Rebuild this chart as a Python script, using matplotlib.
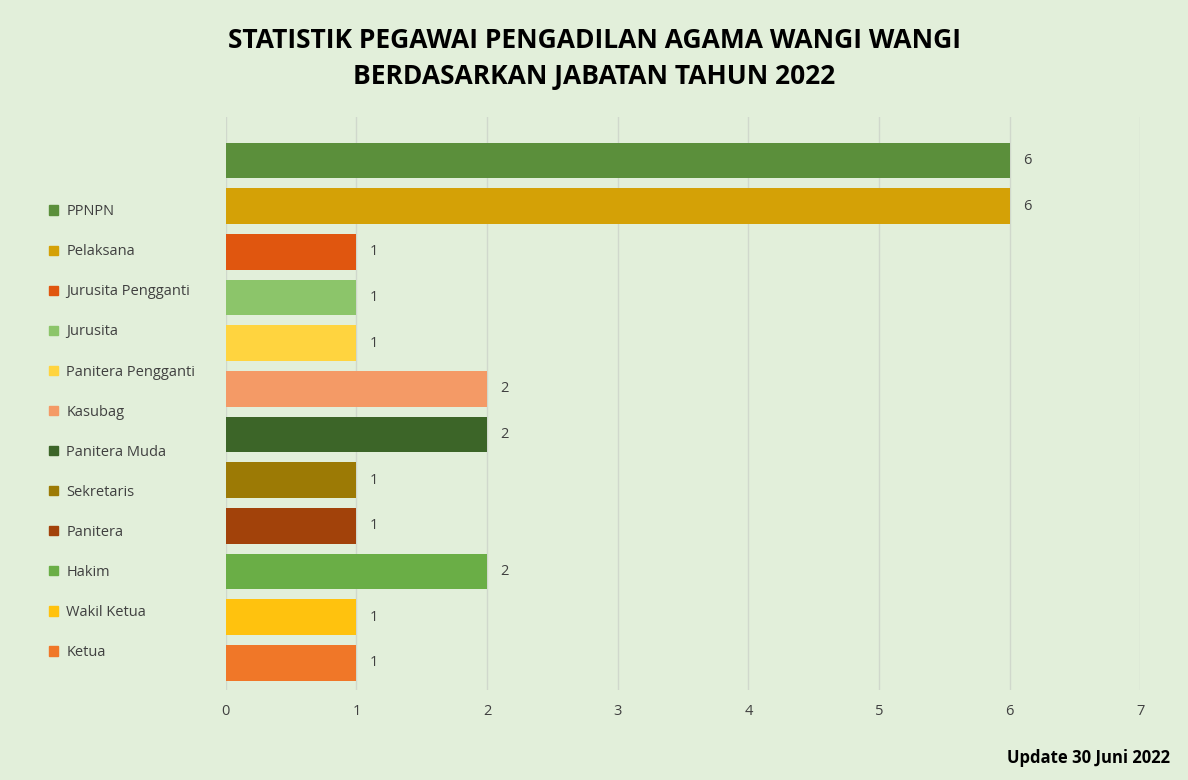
import matplotlib.pyplot as plt
from matplotlib.patches import Patch

plt.rcParams['font.family'] = ['Open Sans', 'DejaVu Sans']

# top to bottom
labels = ["PPNPN", "Pelaksana", "Jurusita Pengganti", "Jurusita", "Panitera Pengganti",
          "Kasubag", "Panitera Muda", "Sekretaris", "Panitera", "Hakim", "Wakil Ketua", "Ketua"]
values = [6, 6, 1, 1, 1, 2, 2, 1, 1, 2, 1, 1]
colors = ["#5b8f3b", "#d4a106", "#e0560f", "#8cc56a", "#ffd43f", "#f49a66",
          "#3c6528", "#9c7a05", "#a2420a", "#6aae46", "#ffc20e", "#f07728"]

bg = "#e2efda"
fig = plt.figure(figsize=(11.88, 7.8), dpi=100, facecolor=bg)
ax = fig.add_axes([0.19, 0.115, 0.77, 0.735], facecolor=bg)

n = len(labels)
ypos = list(range(n - 1, -1, -1))
ax.barh(ypos, values, height=0.78, color=colors, zorder=3)
for y, v in zip(ypos, values):
    ax.text(v + 0.1, y, str(v), va="center", ha="left", fontsize=10.5, color="#404040")

ax.set_xlim(0, 7)
ax.set_ylim(-0.6, n - 0.05)
ax.set_xticks(range(8))
ax.set_yticks([])
ax.tick_params(axis="x", length=0, labelsize=10.5, colors="#404040", pad=10)
ax.grid(axis="x", color="#d0d8cc", linewidth=1, zorder=0)
for s in ax.spines.values():
    s.set_visible(False)

handles = [Patch(color=c, label=l) for c, l in zip(colors, labels)]
fig.legend(handles=handles, loc="upper left", bbox_to_anchor=(0.03, 0.755),
           frameon=False, fontsize=10.5, handlelength=0.6, handleheight=0.6,
           handletextpad=0.6, labelspacing=1.72, labelcolor="#404040")

fig.text(0.5, 0.925, "STATISTIK PEGAWAI PENGADILAN AGAMA WANGI WANGI\nBERDASARKAN JABATAN TAHUN 2022",
         ha="center", va="center", fontsize=19, fontweight="bold", linespacing=1.45)
fig.text(0.985, 0.028, "Update 30 Juni 2022", ha="right", va="center",
         fontsize=12, fontweight="bold")

fig.savefig("out.png", dpi=100, facecolor=bg)
